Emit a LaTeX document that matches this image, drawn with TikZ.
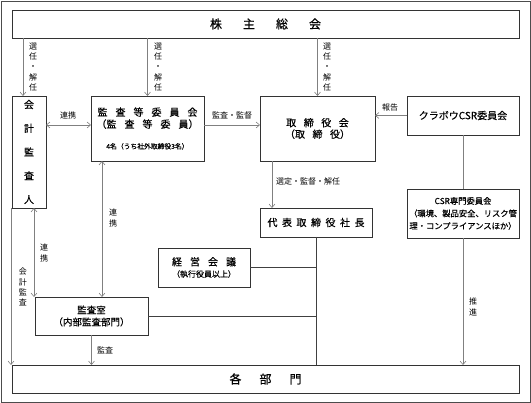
\documentclass[tikz,border=0pt]{standalone}
\usepackage{fontspec}
\setmainfont{Noto Sans CJK JP}
\newfontfamily\boxfont[FakeBold=0.5]{Noto Sans CJK JP}
\usetikzlibrary{arrows.meta}
\newcommand\jsp[1]{\hspace{#1pt}}
\tikzset{
	box/.style={draw=black!80, line width=0.8pt, inner sep=0pt, outer sep=0pt, align=center, font=\boxfont\fontsize{10}{11.5}\selectfont},
	lbl/.style={inner sep=0pt, align=center, font=\fontsize{8}{10.2}\selectfont},
	arr/.style={draw=black!50, line width=0.6pt, -{Straight Barb[length=3.5pt,width=6pt]}},
	darr/.style={draw=black!50, line width=0.6pt, {Straight Barb[length=3.5pt,width=6pt]}-{Straight Barb[length=3.5pt,width=6pt]}},
	link/.style={draw=black!75, line width=0.6pt},
}

\begin{document}
\begin{tikzpicture}[x=1pt,y=-1pt]
				\useasboundingbox (0,0) rectangle (531,403);
				\draw[black!70, line width=0.8pt] (1,1) rectangle (530,402);
				
				\node[box, minimum width=507pt, minimum height=28pt, font=\boxfont\fontsize{12}{14}\selectfont] (kabunushi) at (265.5,24) {株\jsp{21}主\jsp{21}総\jsp{21}会};
				\node[box, minimum width=34pt, minimum height=112pt, font=\boxfont\fontsize{10}{23.75}\selectfont] (kaikei) at (29,152) {会\\計\\監\\査\\人};
				\node[box, minimum width=113pt, minimum height=65pt, font=\boxfont\fontsize{10}{12}\selectfont] (kansa) at (147.5,128.5) {監\jsp8査\jsp8等\jsp8委\jsp8員\jsp8会\\（監\jsp8査\jsp8等\jsp8委\jsp8員）\\[9pt]{\fontsize{6.8}{8}\selectfont 4名（うち社外取締役3名）}};
				\node[box, minimum width=115pt, minimum height=65pt] (torishimari) at (317.5,128.5) {取\jsp{7.5}締\jsp{7.5}役\jsp{7.5}会\\（取\jsp{7.5}締\jsp{7.5}役）};
				\node[box, minimum width=112pt, minimum height=39pt] (csr) at (463,115.5) {クラボウCSR委員会};
				\node[box, minimum width=112pt, minimum height=49pt, font=\boxfont\fontsize{8.3}{12.5}\selectfont] (csrsenmon) at (463,213.5) {CSR専門委員会\\（環境、製品安全、リスク管\\理・コンプライアンスほか）};
				\node[box, minimum width=112pt, minimum height=29pt] (daihyo) at (316,222.5) {代\jsp{4.5}表\jsp{4.5}取\jsp{4.5}締\jsp{4.5}役\jsp{4.5}社\jsp{4.5}長};
				\node[box, minimum width=92pt, minimum height=39pt] (keiei) at (204,267.5) {経\jsp{8}営\jsp{8}会\jsp{8}議\\{\fontsize{8}{9}\selectfont （執行役員以上）}};
				\node[box, minimum width=113pt, minimum height=38pt, font=\boxfont\fontsize{9.5}{12}\selectfont] (kansashitsu) at (91.5,316) {監査室\\（内部監査部門）};
				\node[box, minimum width=507pt, minimum height=28pt, font=\boxfont\fontsize{12}{14}\selectfont] (kakubumon) at (265.5,379) {各\jsp{18}部\jsp{18}門};
				
				\coordinate (kaikeiin) at ([xshift=-6pt]kaikei.north);
				\coordinate (renkeiA) at ([yshift=3.5pt]kansa.west);
				\coordinate (kansaout) at ([yshift=3.5pt]kansa.east);
				\coordinate (senteiout) at ([xshift=-45.5pt]torishimari.south);
				\coordinate (renkeiB) at ([xshift=5pt]kaikei.south);
				\coordinate (renkeiC) at ([xshift=-45.5pt]kansa.south);
				\coordinate (kaikeiout) at ([xshift=-1pt]kaikei.south west);
				
				\draw[arr] (kaikeiin |- kabunushi.south) -- (kaikeiin);
				\draw[arr] (kansa.north |- kabunushi.south) -- (kansa.north);
				\draw[arr] (torishimari.north |- kabunushi.south) -- (torishimari.north);
				\draw[darr] (renkeiA -| kaikei.east) -- (renkeiA);
				\draw[arr] (kansaout) -- (kansaout -| torishimari.west);
				\draw[arr] (csr.west) -- (csr.west -| torishimari.east);
				\draw[arr] (senteiout) -- (senteiout |- daihyo.north);
				\draw[link, draw=black!50] (csr.south) -- (csrsenmon.north);
				\draw[arr] (csrsenmon.south) -- (csrsenmon.south |- kakubumon.north);
				\draw[link] (daihyo.south) -- (daihyo.south |- kakubumon.north);
				\draw[link] (keiei.east) -- (keiei.east -| daihyo.south);
				\draw[link] (kansashitsu.east) -- (kansashitsu.east -| daihyo.south);
				\draw[darr] (renkeiB) -- (renkeiB |- kansashitsu.north);
				\draw[darr] (renkeiC) -- (renkeiC |- kansashitsu.north);
				\draw[arr] (kaikeiout) -- (kaikeiout |- kakubumon.north);
				\draw[arr] (kansashitsu.south) -- (kansashitsu.south |- kakubumon.north);
				
				\node[lbl] (sennin1) at (33,67) {選\\任\\・\\解\\任};
				\node[lbl] (sennin2) at (158,67) {選\\任\\・\\解\\任};
				\node[lbl] (sennin3) at (327,67) {選\\任\\・\\解\\任};
				\node[lbl] (renkei1) at (68,115) {連携};
				\node[lbl] (kansakantoku) at (232,115) {監査・監督};
				\node[lbl] (houkoku) at (390,107) {報告};
				\node[lbl] (sentei) at (308,181) {選定・監督・解任};
				\node[lbl] (renkei2) at (113,218) {連\\携};
				\node[lbl] (renkei3) at (44,253) {連\\携};
				\node[lbl] (kaikeikansa) at (23,287) {会\\計\\監\\査};
				\node[lbl] (kansalbl) at (105,350) {監査};
				\node[lbl] (suishin) at (473,307) {推\\進};
\end{tikzpicture}
\end{document}
